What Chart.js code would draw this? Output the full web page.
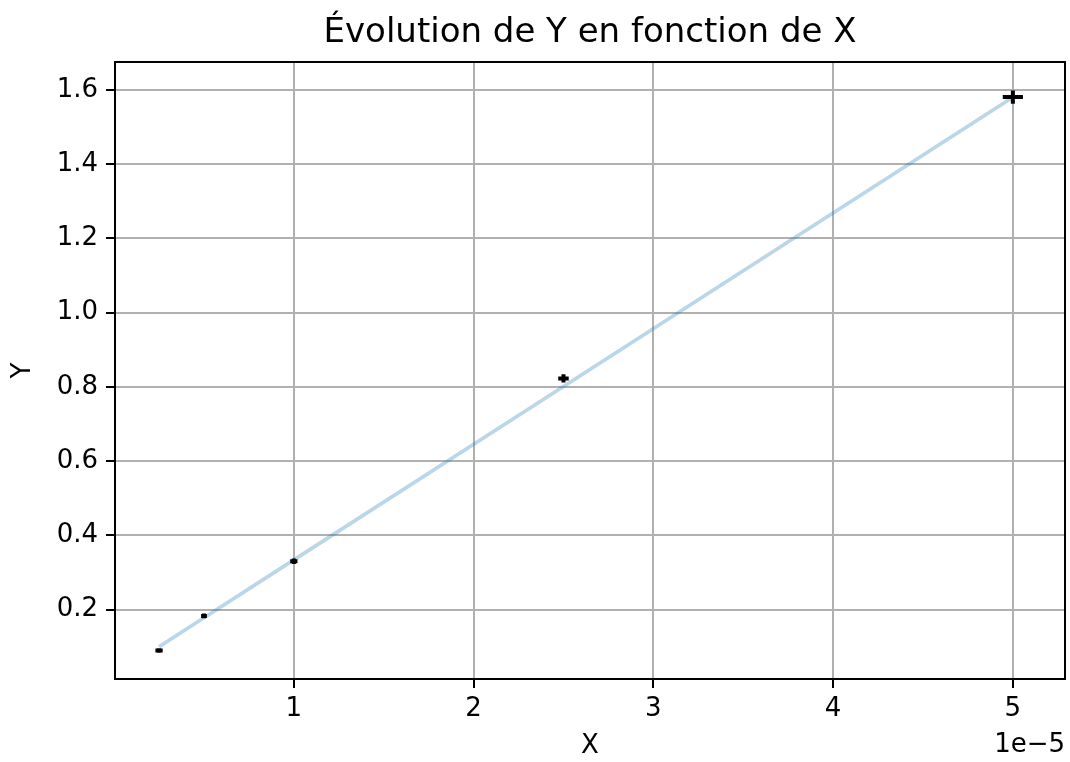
<!DOCTYPE html>
<html lang="fr">
<head>
    <meta charset="UTF-8">
    <title>Évolution de Y en fonction de X</title>
    <script src="https://cdn.jsdelivr.net/npm/chart.js"></script>
    <style>
        html, body { margin: 0; padding: 0; background: #fff; }
        #wrap { width: 1070px; height: 762px; }
    </style>
</head>
<body>
    <div id="wrap"><canvas id="evoChart"></canvas></div>

    <script>
        const xValues = [0.25e-5, 0.5e-5, 1e-5, 2.5e-5, 5e-5];
        const yValues = [0.0897, 0.183, 0.330, 0.8225, 1.5805];
        const xErr = [0.009e-5, 0.005e-5, 0.009e-5, 0.018e-5, 0.045e-5];
        const yErr = [0.0005, 0.001, 0.002, 0.0057, 0.0124];
        // droite ajustée
        const fitValues = [0.100, 0.178, 0.334, 0.801, 1.580];

        const xTicks = [1e-5, 2e-5, 3e-5, 4e-5, 5e-5];
        const yTicks = [0.2, 0.4, 0.6, 0.8, 1.0, 1.2, 1.4, 1.6];

        const chartTitle = 'Évolution de Y en fonction de X';
        const tickFont = { family: "'DejaVu Sans'", size: 26 };

        const errorBars = {
            id: 'errorBars',
            afterDatasetsDraw(chart) {
                const { ctx, scales: { x, y } } = chart;
                ctx.save();
                ctx.strokeStyle = '#000';
                ctx.lineWidth = 4;
                ctx.lineCap = 'square';
                for (let i = 0; i < xValues.length; i++) {
                    const px = x.getPixelForValue(xValues[i]);
                    const py = y.getPixelForValue(yValues[i]);
                    ctx.beginPath();
                    ctx.moveTo(x.getPixelForValue(xValues[i] - xErr[i]), py);
                    ctx.lineTo(x.getPixelForValue(xValues[i] + xErr[i]), py);
                    ctx.moveTo(px, y.getPixelForValue(yValues[i] - yErr[i]));
                    ctx.lineTo(px, y.getPixelForValue(yValues[i] + yErr[i]));
                    ctx.stroke();
                }
                ctx.restore();
            }
        };

        const frame = {
            id: 'frame',
            afterDraw(chart) {
                const { ctx, chartArea: a } = chart;
                ctx.save();
                ctx.strokeStyle = '#000';
                ctx.lineWidth = 2;
                ctx.strokeRect(a.left, a.top, a.right - a.left, a.bottom - a.top);
                ctx.fillStyle = '#000';
                // titre centré sur la zone de tracé
                ctx.font = "34px 'DejaVu Sans'";
                ctx.textAlign = 'center';
                ctx.textBaseline = 'middle';
                ctx.fillText(chartTitle, (a.left + a.right) / 2, 33);
                // texte de décalage de l'axe x
                ctx.font = "26px 'DejaVu Sans'";
                ctx.textAlign = 'right';
                ctx.fillText('1e\u22125', a.right, 745);
                ctx.restore();
            }
        };

        new Chart(document.getElementById('evoChart'), {
            type: 'scatter',
            data: {
                datasets: [{
                    label: 'ajustement',
                    data: xValues.map((v, i) => ({ x: v, y: fitValues[i] })),
                    showLine: true,
                    borderColor: 'rgba(31, 119, 180, 0.3)',
                    borderWidth: 3.75,
                    pointRadius: 0
                }, {
                    label: 'mesures',
                    data: xValues.map((v, i) => ({ x: v, y: yValues[i] })),
                    pointRadius: 0
                }]
            },
            options: {
                responsive: true,
                maintainAspectRatio: false,
                animation: false,
                layout: { padding: { left: 0, right: 5, top: 62, bottom: 0 } },
                plugins: {
                    legend: { display: false },
                    tooltip: { enabled: false },
                    title: { display: false }
                },
                scales: {
                    x: {
                        type: 'linear',
                        min: 0.005e-5,
                        max: 5.29e-5,
                        afterBuildTicks: s => { s.ticks = xTicks.map(v => ({ value: v })); },
                        afterFit: s => { s.height = 83; },
                        ticks: {
                            color: '#000',
                            font: tickFont,
                            padding: 6,
                            maxRotation: 0,
                            callback: v => String(Math.round(v / 1e-5))
                        },
                        grid: { color: '#b0b0b0', lineWidth: 2, tickColor: '#000', tickLength: 9, tickWidth: 2 },
                        border: { color: '#000', width: 2 },
                        title: { display: true, text: 'X', color: '#000', font: tickFont, padding: 0 }
                    },
                    y: {
                        type: 'linear',
                        min: 0.013,
                        max: 1.675,
                        afterBuildTicks: s => { s.ticks = yTicks.map(v => ({ value: v })); },
                        afterFit: s => { s.width = 115; },
                        ticks: {
                            color: '#000',
                            font: tickFont,
                            padding: 8,
                            callback: v => v.toFixed(1)
                        },
                        grid: { color: '#b0b0b0', lineWidth: 2, tickColor: '#000', tickLength: 9, tickWidth: 2 },
                        border: { color: '#000', width: 2 },
                        title: { display: true, text: 'Y', color: '#000', font: tickFont, padding: 8 }
                    }
                }
            },
            plugins: [errorBars, frame]
        });
    </script>
</body>
</html>
